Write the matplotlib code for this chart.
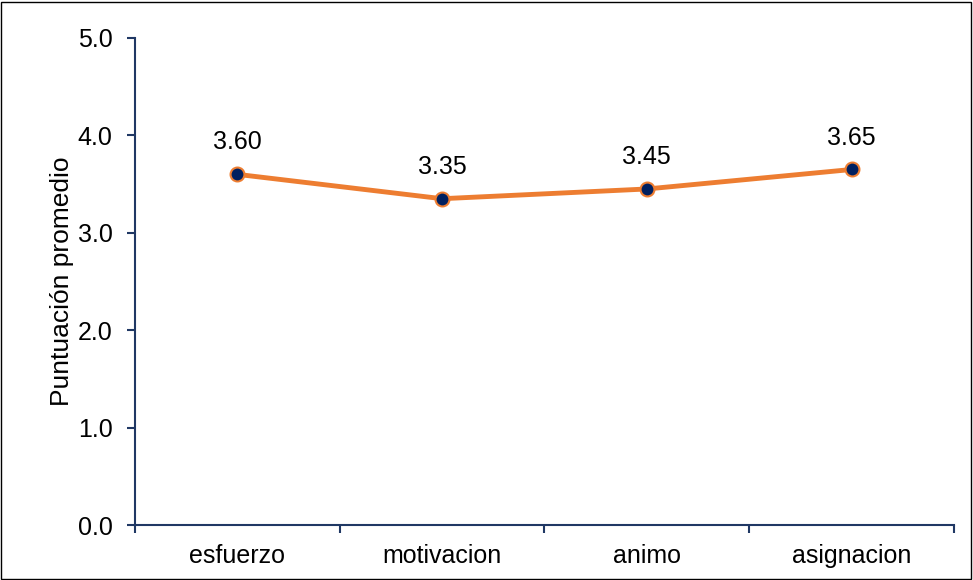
import matplotlib.pyplot as plt
from matplotlib.patches import Rectangle

plt.rcParams['font.family'] = ['Liberation Sans', 'DejaVu Sans']

# Average score per item
categories = ['esfuerzo', 'motivacion', 'animo', 'asignacion']
scores = [3.60, 3.35, 3.45, 3.65]
y_ticks = [0.0, 1.0, 2.0, 3.0, 4.0, 5.0]

axis_color = '#203864'
line_color = '#ED7D31'
marker_color = '#002060'

fig = plt.figure(figsize=(9.73, 5.80), dpi=100)
ax = fig.add_axes([0.1387, 0.0948, 0.8418, 0.8397])

x = range(len(categories))
ax.plot(x, scores, color=line_color, linewidth=3.5, marker='o', markersize=10,
        markerfacecolor=marker_color, markeredgecolor=line_color, markeredgewidth=1.5,
        zorder=3)

for xi, val in zip(x, scores):
    ax.annotate(f'{val:.2f}', (xi, val), xytext=(0, 23), textcoords='offset points',
                ha='center', va='center', fontsize=18, color='black')

ax.set_xlim(-0.5, len(categories) - 0.5)
ax.set_ylim(0, 5)
ax.set_yticks(y_ticks)
ax.set_yticklabels([f'{t:.1f}' for t in y_ticks], fontsize=18)
ax.set_xticks(list(x))
ax.set_xticklabels(categories, fontsize=18)
ax.set_xticks([i - 0.5 for i in range(len(categories) + 1)], minor=True)

ax.tick_params(axis='x', which='major', length=0, pad=14)
ax.tick_params(axis='x', which='minor', length=6, width=1.5, color=axis_color, direction='out')
ax.tick_params(axis='y', length=6, width=1.5, color=axis_color, direction='out', pad=10)

ax.set_ylabel('Puntuación promedio', fontsize=19, labelpad=3)

for side in ['top', 'right']:
    ax.spines[side].set_visible(False)
for side in ['left', 'bottom']:
    ax.spines[side].set_color(axis_color)
    ax.spines[side].set_linewidth(1.5)

# thin frame around the whole figure
fig.patches.append(Rectangle((0.001, 0.002), 0.997, 0.995, transform=fig.transFigure,
                             fill=False, edgecolor='black', linewidth=1))

fig.savefig('out.png', dpi=100)
